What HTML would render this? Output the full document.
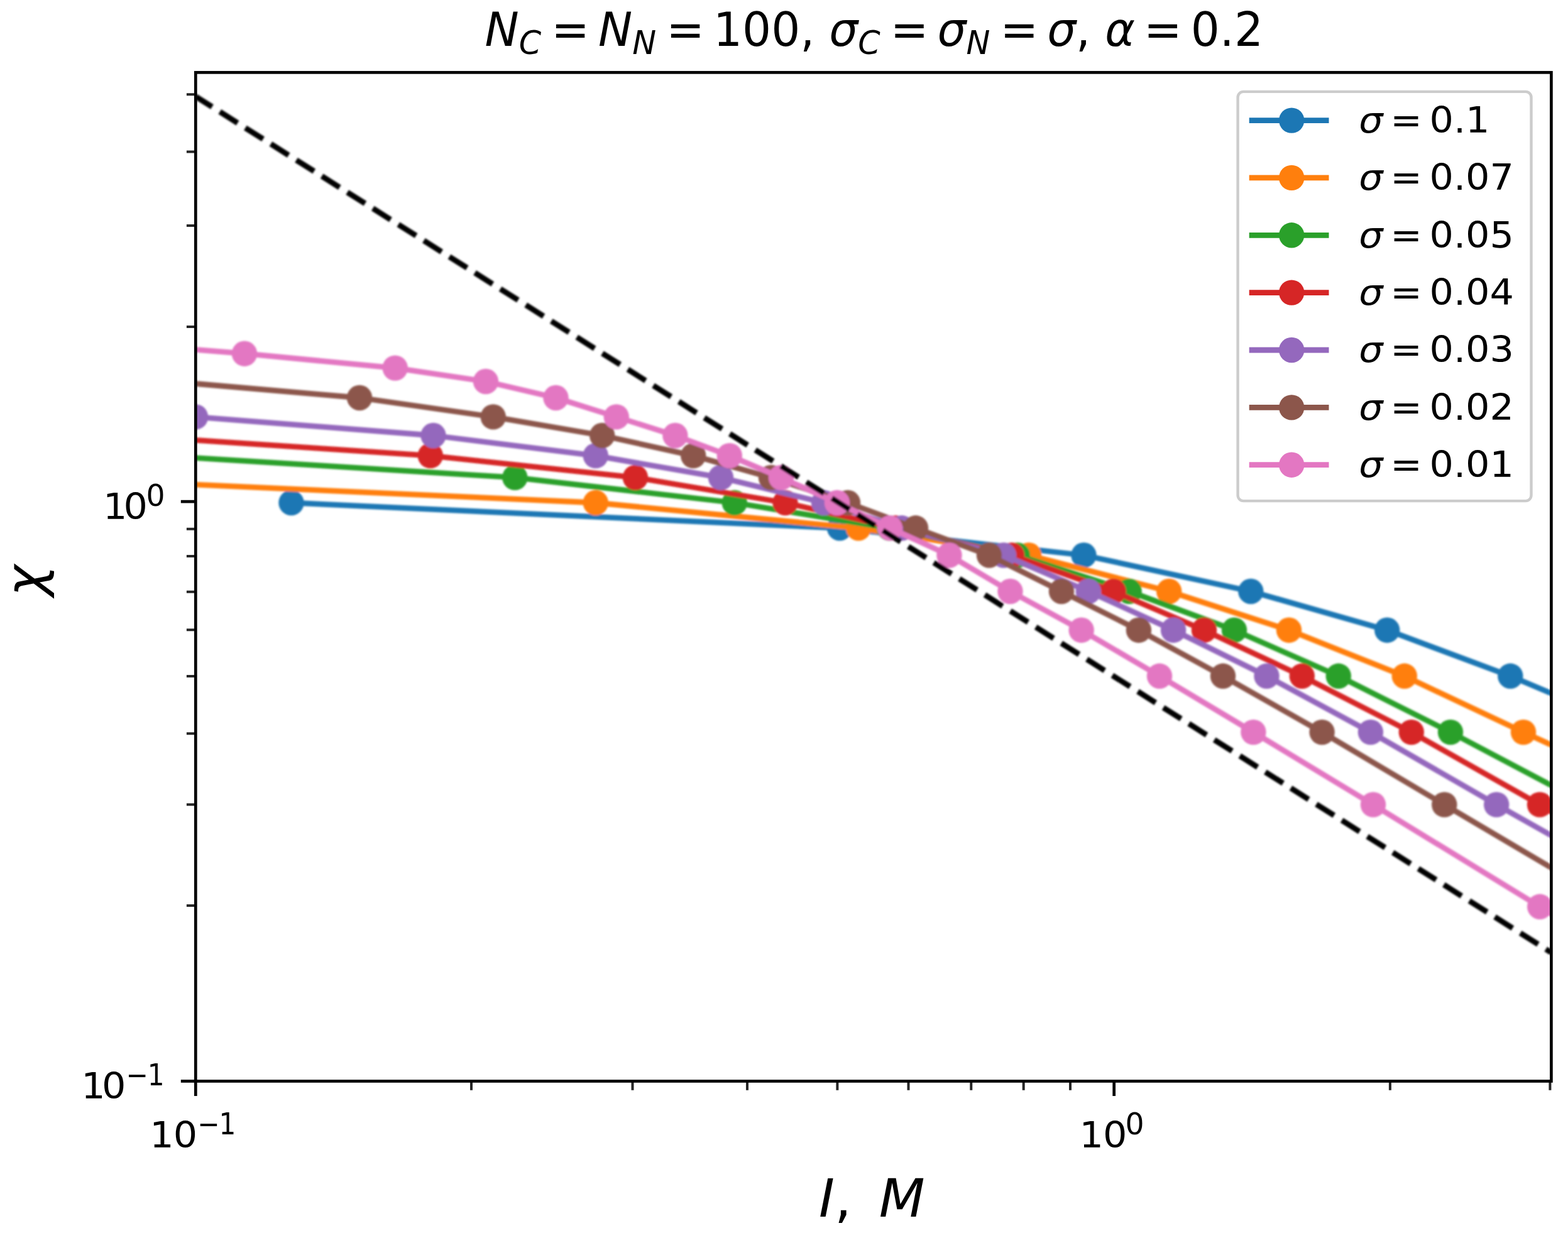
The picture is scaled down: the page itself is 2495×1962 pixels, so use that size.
<!DOCTYPE html>
<html lang="en"><head><meta charset="utf-8"><title>chi vs I, M</title>
<style>html,body{margin:0;padding:0;background:#fff}body{width:2495px;height:1962px;overflow:hidden}svg{display:block}text{font-family:"DejaVu Sans","Liberation Sans",sans-serif;fill:#000}.i{font-style:oblique}</style></head><body>
<svg width="2495" height="1962" viewBox="0 0 2495 1962" role="img" aria-label="Log-log plot of chi versus I, M for several sigma values">
<defs><clipPath id="ax"><rect x="311.30" y="115.30" width="2157.10" height="1605.10"/></clipPath>
<filter id="bl" x="0" y="0" width="100%" height="100%" filterUnits="objectBoundingBox"><feGaussianBlur stdDeviation="1.5"/></filter>
<filter id="bt" x="0" y="0" width="100%" height="100%" filterUnits="objectBoundingBox"><feGaussianBlur stdDeviation="0.7"/></filter>
</defs>
<rect width="2495" height="1962" fill="#fff"/>
<g filter="url(#bl)"><rect width="2495" height="1962" fill="#fff" fill-opacity="0"/>
<g clip-path="url(#ax)">
<polyline points="463.5,800.0 1336.0,840.3 1724.5,883.5 1990.3,941.0 2207.2,1002.7 2403.3,1075.8 2615.0,1165.1" fill="none" stroke="#1f77b4" stroke-width="8.80" stroke-linejoin="round" stroke-linecap="square"/>
<g fill="#1f77b4"><circle cx="463.5" cy="800.0" r="20.20"/><circle cx="1336.0" cy="840.3" r="20.20"/><circle cx="1724.5" cy="883.5" r="20.20"/><circle cx="1990.3" cy="941.0" r="20.20"/><circle cx="2207.2" cy="1002.7" r="20.20"/><circle cx="2403.3" cy="1075.8" r="20.20"/></g>
<polyline points="61.0,759.9 947.8,800.0 1366.0,840.3 1637.0,883.5 1860.2,941.0 2051.0,1002.7 2234.8,1075.8 2424.0,1165.1 2676.0,1280.4" fill="none" stroke="#ff7f0e" stroke-width="8.80" stroke-linejoin="round" stroke-linecap="square"/>
<g fill="#ff7f0e"><circle cx="947.8" cy="800.0" r="20.20"/><circle cx="1366.0" cy="840.3" r="20.20"/><circle cx="1637.0" cy="883.5" r="20.20"/><circle cx="1860.2" cy="941.0" r="20.20"/><circle cx="2051.0" cy="1002.7" r="20.20"/><circle cx="2234.8" cy="1075.8" r="20.20"/><circle cx="2424.0" cy="1165.1" r="20.20"/></g>
<polyline points="253.0,725.1 819.3,759.9 1168.8,800.0 1415.0,840.3 1619.0,883.5 1796.7,941.0 1964.0,1002.7 2129.8,1075.8 2308.0,1165.1 2526.4,1280.4" fill="none" stroke="#2ca02c" stroke-width="8.80" stroke-linejoin="round" stroke-linecap="square"/>
<g fill="#2ca02c"><circle cx="819.3" cy="759.9" r="20.20"/><circle cx="1168.8" cy="800.0" r="20.20"/><circle cx="1415.0" cy="840.3" r="20.20"/><circle cx="1619.0" cy="883.5" r="20.20"/><circle cx="1796.7" cy="941.0" r="20.20"/><circle cx="1964.0" cy="1002.7" r="20.20"/><circle cx="2129.8" cy="1075.8" r="20.20"/><circle cx="2308.0" cy="1165.1" r="20.20"/></g>
<polyline points="201.0,693.0 684.8,725.1 1011.0,759.9 1249.5,800.0 1425.0,840.3 1610.0,883.5 1771.8,941.0 1916.0,1002.7 2071.8,1075.8 2245.8,1165.1 2450.0,1280.4 2720.0,1442.8" fill="none" stroke="#d62728" stroke-width="8.80" stroke-linejoin="round" stroke-linecap="square"/>
<g fill="#d62728"><circle cx="684.8" cy="725.1" r="20.20"/><circle cx="1011.0" cy="759.9" r="20.20"/><circle cx="1249.5" cy="800.0" r="20.20"/><circle cx="1425.0" cy="840.3" r="20.20"/><circle cx="1610.0" cy="883.5" r="20.20"/><circle cx="1771.8" cy="941.0" r="20.20"/><circle cx="1916.0" cy="1002.7" r="20.20"/><circle cx="2071.8" cy="1075.8" r="20.20"/><circle cx="2245.8" cy="1165.1" r="20.20"/><circle cx="2450.0" cy="1280.4" r="20.20"/></g>
<polyline points="311.0,663.4 689.5,693.0 947.8,725.1 1147.0,759.9 1311.0,800.0 1435.0,840.3 1597.0,883.5 1731.8,941.0 1867.1,1002.7 2015.5,1075.8 2180.9,1165.1 2381.2,1280.4 2670.0,1442.8" fill="none" stroke="#9467bd" stroke-width="8.80" stroke-linejoin="round" stroke-linecap="square"/>
<g fill="#9467bd"><circle cx="311.0" cy="663.4" r="20.20"/><circle cx="689.5" cy="693.0" r="20.20"/><circle cx="947.8" cy="725.1" r="20.20"/><circle cx="1147.0" cy="759.9" r="20.20"/><circle cx="1311.0" cy="800.0" r="20.20"/><circle cx="1435.0" cy="840.3" r="20.20"/><circle cx="1597.0" cy="883.5" r="20.20"/><circle cx="1731.8" cy="941.0" r="20.20"/><circle cx="1867.1" cy="1002.7" r="20.20"/><circle cx="2015.5" cy="1075.8" r="20.20"/><circle cx="2180.9" cy="1165.1" r="20.20"/><circle cx="2381.2" cy="1280.4" r="20.20"/></g>
<polyline points="270.0,607.0 572.1,633.0 784.8,663.4 958.2,693.0 1103.2,725.1 1227.0,759.9 1349.0,800.0 1457.0,840.3 1574.0,883.5 1689.0,941.0 1811.9,1002.7 1946.0,1075.8 2103.6,1165.1 2298.3,1280.4 2573.5,1442.8" fill="none" stroke="#8c564b" stroke-width="8.80" stroke-linejoin="round" stroke-linecap="square"/>
<g fill="#8c564b"><circle cx="572.1" cy="633.0" r="20.20"/><circle cx="784.8" cy="663.4" r="20.20"/><circle cx="958.2" cy="693.0" r="20.20"/><circle cx="1103.2" cy="725.1" r="20.20"/><circle cx="1227.0" cy="759.9" r="20.20"/><circle cx="1349.0" cy="800.0" r="20.20"/><circle cx="1457.0" cy="840.3" r="20.20"/><circle cx="1574.0" cy="883.5" r="20.20"/><circle cx="1689.0" cy="941.0" r="20.20"/><circle cx="1811.9" cy="1002.7" r="20.20"/><circle cx="1946.0" cy="1075.8" r="20.20"/><circle cx="2103.6" cy="1165.1" r="20.20"/><circle cx="2298.3" cy="1280.4" r="20.20"/></g>
<polyline points="122.0,541.0 389.0,562.7 628.7,585.6 773.0,607.0 884.5,633.0 980.8,663.4 1074.4,693.0 1160.8,725.1 1243.0,759.9 1332.0,800.0 1416.0,840.3 1510.5,883.5 1607.5,941.0 1720.7,1002.7 1845.0,1075.8 1994.4,1165.1 2185.0,1280.4 2450.2,1442.8 2898.0,1720.4" fill="none" stroke="#e377c2" stroke-width="8.80" stroke-linejoin="round" stroke-linecap="square"/>
<g fill="#e377c2"><circle cx="389.0" cy="562.7" r="20.20"/><circle cx="628.7" cy="585.6" r="20.20"/><circle cx="773.0" cy="607.0" r="20.20"/><circle cx="884.5" cy="633.0" r="20.20"/><circle cx="980.8" cy="663.4" r="20.20"/><circle cx="1074.4" cy="693.0" r="20.20"/><circle cx="1160.8" cy="725.1" r="20.20"/><circle cx="1243.0" cy="759.9" r="20.20"/><circle cx="1332.0" cy="800.0" r="20.20"/><circle cx="1416.0" cy="840.3" r="20.20"/><circle cx="1510.5" cy="883.5" r="20.20"/><circle cx="1607.5" cy="941.0" r="20.20"/><circle cx="1720.7" cy="1002.7" r="20.20"/><circle cx="1845.0" cy="1075.8" r="20.20"/><circle cx="1994.4" cy="1165.1" r="20.20"/><circle cx="2185.0" cy="1280.4" r="20.20"/><circle cx="2450.2" cy="1442.8" r="20.20"/></g>
<line x1="311.3" y1="153.5" x2="2468.4" y2="1515.8" stroke="#000" stroke-width="8.80" stroke-dasharray="33.50 14.49" stroke-dashoffset="2.5"/>
</g>
</g>
<g filter="url(#bt)"><rect width="2495" height="1962" fill="#fff" fill-opacity="0"/>
<path d="M311.30 1720.40 v23.48 M311.30 1720.40 h-23.48 M1772.70 1720.40 v23.48 M311.30 798.10 h-23.48" stroke="#000" stroke-width="4.70" fill="none"/>
<path d="M750.00 1720.40 v14.42 M1006.50 1720.40 v14.42 M1188.99 1720.40 v14.42 M1332.38 1720.40 v14.42 M1445.50 1720.40 v14.42 M1545.28 1720.40 v14.42 M1628.70 1720.40 v14.42 M1703.00 1720.40 v14.42 M2211.90 1720.40 v14.42 M2466.42 1720.40 v14.42 M311.30 1441.02 h-14.42 M311.30 1280.26 h-14.42 M311.30 1167.29 h-14.42 M311.30 1076.04 h-14.42 M311.30 1002.18 h-14.42 M311.30 941.80 h-14.42 M311.30 884.90 h-14.42 M311.30 841.80 h-14.42 M311.30 519.88 h-14.42 M311.30 359.12 h-14.42 M311.30 241.40 h-14.42 M311.30 150.20 h-14.42" stroke="#000" stroke-width="4.00" fill="none" stroke-opacity="0.85"/>
<rect x="311.30" y="115.30" width="2157.10" height="1605.10" fill="none" stroke="#000" stroke-width="4.70"/>
<text y="1825.8" font-size="60.36" transform="matrix(1 0 0 0.9450 0 100.419)"><tspan x="238.3">1</tspan><tspan x="275.7">0</tspan></text><text y="1804.8" font-size="42.25" transform="matrix(1 0 0 1.1200 0 -216.576)"><tspan x="314.3">−</tspan><tspan x="348.6">1</tspan></text>
<text y="1825.8" font-size="60.36" transform="matrix(1 0 0 0.9450 0 100.419)"><tspan x="1717.6">1</tspan><tspan x="1755.0">0</tspan></text><text x="1790.6" y="1804.8" font-size="47.32">0</text>
<text y="1747.8" font-size="60.36" transform="matrix(1 0 0 0.9450 0 96.129)"><tspan x="129.3">1</tspan><tspan x="161.9">0</tspan></text><text y="1726.8" font-size="42.25" transform="matrix(1 0 0 1.1200 0 -207.216)"><tspan x="200.5">−</tspan><tspan x="234.8">1</tspan></text>
<text y="826.3" font-size="60.36" transform="matrix(1 0 0 0.9450 0 45.447)"><tspan x="164.0">1</tspan><tspan x="196.6">0</tspan></text><text x="232.4" y="805.3" font-size="47.32">0</text>
<text y="1936.0" font-size="84.50"><tspan class="i" x="1303.0">I</tspan><tspan x="1327.9">,</tspan> <tspan class="i" x="1398.7">M</tspan></text>
<text class="i" font-size="84.50" transform="translate(69.0 949.0) rotate(-90)">χ</text>
<text font-size="72.43" transform="matrix(1 0 0 1.0300 0 -2.184)"><tspan class="i" x="771.5" y="72.8">N</tspan><tspan class="i" font-size="50.70" x="825.7" y="85.9">C</tspan> <tspan x="877.2" y="72.8">=</tspan> <tspan class="i" x="952.0" y="72.8">N</tspan><tspan class="i" font-size="50.70" x="1006.2" y="85.9">N</tspan> <tspan x="1060.2" y="72.8">=</tspan> <tspan x="1135.0" y="72.8">100,</tspan> <tspan class="i" x="1319.3" y="72.8">σ</tspan><tspan class="i" font-size="50.70" x="1365.2" y="85.9">C</tspan> <tspan x="1416.7" y="72.8">=</tspan> <tspan class="i" x="1491.5" y="72.8">σ</tspan><tspan class="i" font-size="50.70" x="1537.4" y="85.9">N</tspan> <tspan x="1591.4" y="72.8">=</tspan> <tspan class="i" x="1666.2" y="72.8">σ</tspan><tspan x="1712.1" y="72.8">,</tspan> <tspan class="i" x="1758.2" y="72.8">α</tspan><tspan x="1820.0" y="72.8">=</tspan> <tspan x="1894.8" y="72.8">0.2</tspan> </text>
<rect x="1969.6" y="145.9" width="466.9" height="651.2" rx="9.0" fill="#fff" fill-opacity="0.8" stroke="#ccc" stroke-width="4.40"/>
<line x1="1987.7" y1="191.6" x2="2114.5" y2="191.6" stroke="#1f77b4" stroke-width="8.80"/>
<circle cx="2055.2" cy="191.6" r="20.20" fill="#1f77b4"/>
<text y="211.1" font-size="60.36" transform="matrix(1 0 0 0.9450 0 11.611)"><tspan class="i" x="2162.2">σ</tspan> <tspan x="2212.2">=</tspan> <tspan x="2274.5">0.1</tspan></text>
<line x1="1987.7" y1="282.9" x2="2114.5" y2="282.9" stroke="#ff7f0e" stroke-width="8.80"/>
<circle cx="2055.2" cy="282.9" r="20.20" fill="#ff7f0e"/>
<text y="302.4" font-size="60.36" transform="matrix(1 0 0 0.9450 0 16.635)"><tspan class="i" x="2162.2">σ</tspan> <tspan x="2212.2">=</tspan> <tspan x="2274.5">0.07</tspan></text>
<line x1="1987.7" y1="374.3" x2="2114.5" y2="374.3" stroke="#2ca02c" stroke-width="8.80"/>
<circle cx="2055.2" cy="374.3" r="20.20" fill="#2ca02c"/>
<text y="393.8" font-size="60.36" transform="matrix(1 0 0 0.9450 0 21.659)"><tspan class="i" x="2162.2">σ</tspan> <tspan x="2212.2">=</tspan> <tspan x="2274.5">0.05</tspan></text>
<line x1="1987.7" y1="465.6" x2="2114.5" y2="465.6" stroke="#d62728" stroke-width="8.80"/>
<circle cx="2055.2" cy="465.6" r="20.20" fill="#d62728"/>
<text y="485.1" font-size="60.36" transform="matrix(1 0 0 0.9450 0 26.683)"><tspan class="i" x="2162.2">σ</tspan> <tspan x="2212.2">=</tspan> <tspan x="2274.5">0.04</tspan></text>
<line x1="1987.7" y1="557.0" x2="2114.5" y2="557.0" stroke="#9467bd" stroke-width="8.80"/>
<circle cx="2055.2" cy="557.0" r="20.20" fill="#9467bd"/>
<text y="576.5" font-size="60.36" transform="matrix(1 0 0 0.9450 0 31.708)"><tspan class="i" x="2162.2">σ</tspan> <tspan x="2212.2">=</tspan> <tspan x="2274.5">0.03</tspan></text>
<line x1="1987.7" y1="648.4" x2="2114.5" y2="648.4" stroke="#8c564b" stroke-width="8.80"/>
<circle cx="2055.2" cy="648.4" r="20.20" fill="#8c564b"/>
<text y="667.9" font-size="60.36" transform="matrix(1 0 0 0.9450 0 36.732)"><tspan class="i" x="2162.2">σ</tspan> <tspan x="2212.2">=</tspan> <tspan x="2274.5">0.02</tspan></text>
<line x1="1987.7" y1="739.7" x2="2114.5" y2="739.7" stroke="#e377c2" stroke-width="8.80"/>
<circle cx="2055.2" cy="739.7" r="20.20" fill="#e377c2"/>
<text y="759.2" font-size="60.36" transform="matrix(1 0 0 0.9450 0 41.756)"><tspan class="i" x="2162.2">σ</tspan> <tspan x="2212.2">=</tspan> <tspan x="2274.5">0.01</tspan></text>
</g>
</svg></body></html>
